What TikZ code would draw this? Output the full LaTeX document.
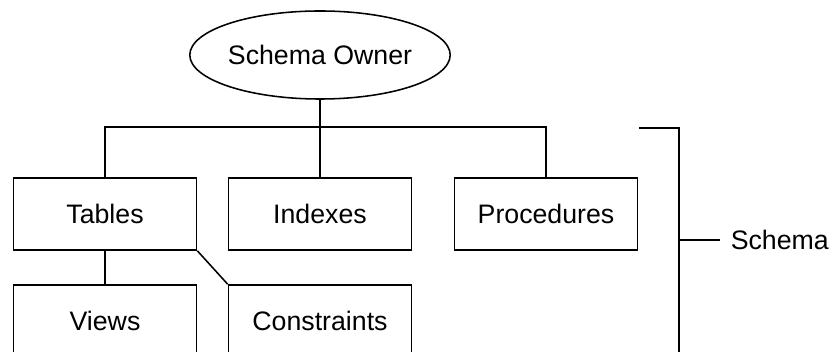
\documentclass[tikz,border=0pt]{standalone}
\usepackage{fontspec}
\setmainfont{Liberation Sans}
\usetikzlibrary{shapes.geometric}

\begin{document}
\begin{tikzpicture}[x=0.025cm, y=-0.025cm, line width=1.1pt,
    objbox/.style={draw, rectangle, minimum width=4.575cm, minimum height=1.8cm,
                   inner sep=0pt, font=\fontsize{19}{22}\selectfont},
    ownerell/.style={draw, ellipse, minimum width=6.45cm, minimum height=2.2cm,
                     inner sep=0pt, font=\fontsize{19}{22}\selectfont}]
  \path[clip] (0,0) rectangle (836,352);
  \node[ownerell] (owner) at (320,55) {Schema Owner};
  \node[objbox] (tables) at (105,214) {Tables};
  \node[objbox] (indexes) at (320,214) {Indexes};
  \node[objbox] (procs) at (546,214) {Procedures};
  \node[objbox] (views) at (105,321) {Views};
  \node[objbox] (constr) at (320,321) {Constraints};
  \draw (owner.south) -- (indexes.north);
  \draw (tables.north) -- ++(0,-50) -| (procs.north);
  \draw (tables.south) -- (views.north);
  \draw (tables.south east) -- (constr.north west);
  % bracket round the schema objects
  \node[anchor=west, inner sep=0pt, font=\fontsize{19}{22}\selectfont]
        (schema) at (730,240) {Schema};
  \coordinate (brtop) at (639,128);
  \coordinate (brbot) at (679,360);
  \draw (brtop) -| (brbot);
  \draw ([xshift=-0.25cm]schema.west) -- (schema.west -| brbot);
\end{tikzpicture}
\end{document}
